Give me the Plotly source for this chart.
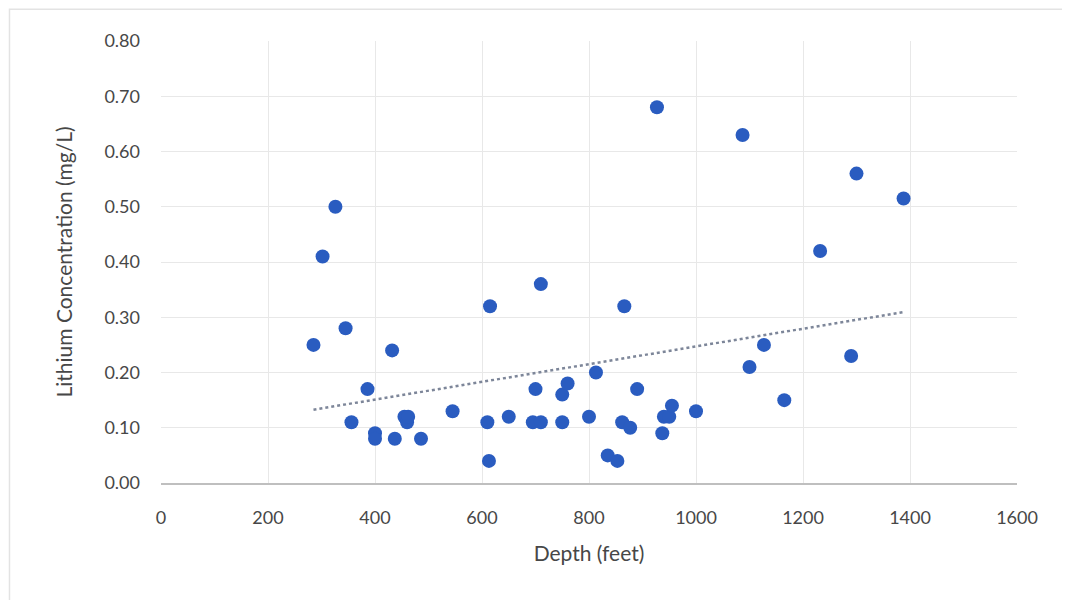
import numpy as np
import plotly.graph_objects as go

depth_ft = [285, 302, 326, 345, 356, 386, 400, 400, 432, 437, 455, 460, 462, 486,
            545, 610, 613, 615, 650, 695, 700, 710, 710, 750, 750, 760, 800, 813,
            835, 853, 862, 866, 877, 890, 927, 937, 940, 950, 955, 1000, 1087,
            1100, 1127, 1165, 1232, 1290, 1300, 1388]
lithium_mg_l = [0.25, 0.41, 0.50, 0.28, 0.11, 0.17, 0.09, 0.08, 0.24, 0.08, 0.12, 0.11, 0.12, 0.08,
                0.13, 0.11, 0.04, 0.32, 0.12, 0.11, 0.17, 0.11, 0.36, 0.11, 0.16, 0.18, 0.12, 0.20,
                0.05, 0.04, 0.11, 0.32, 0.10, 0.17, 0.68, 0.09, 0.12, 0.12, 0.14, 0.13, 0.63,
                0.21, 0.25, 0.15, 0.42, 0.23, 0.56, 0.515]

x_ticks = [0, 200, 400, 600, 800, 1000, 1200, 1400, 1600]
y_ticks = [0.0, 0.1, 0.2, 0.3, 0.4, 0.5, 0.6, 0.7, 0.8]

slope, intercept = np.polyfit(depth_ft, lithium_mg_l, 1)
tx = [min(depth_ft), max(depth_ft)]
ty = [slope * v + intercept for v in tx]

font_family = "Lato, 'Open Sans', Arial, sans-serif"
text_col = "#474747"

fig = go.Figure()
fig.add_trace(go.Scatter(
    x=tx, y=ty, mode="lines",
    line=dict(color="#7d8699", width=2.5, dash="dot"),
    hoverinfo="skip", showlegend=False))
fig.add_trace(go.Scatter(
    x=depth_ft, y=lithium_mg_l, mode="markers",
    marker=dict(color="#2a5cc0", size=14, line=dict(width=0)),
    showlegend=False))

fig.update_layout(
    width=1070, height=600,
    margin=dict(l=153, r=61, t=33, b=125),
    paper_bgcolor="white", plot_bgcolor="white",
    font=dict(family=font_family, color=text_col, size=18),
    xaxis=dict(
        range=[0, 1600], tickvals=x_ticks, ticktext=[str(v) for v in x_ticks],
        showgrid=True, gridcolor="#e8e8e8", gridwidth=1,
        showline=True, linecolor="#bfbfbf", linewidth=1.5,
        zeroline=False, ticks="", ticklen=0, ticklabelstandoff=18,
        title=dict(text="Depth (feet)", font=dict(size=21, color=text_col), standoff=19),
        tickfont=dict(size=18, color=text_col),
    ),
    yaxis=dict(
        range=[0, 0.8], tickvals=y_ticks, ticktext=[f"{v:.2f}" for v in y_ticks],
        showgrid=True, gridcolor="#e8e8e8", gridwidth=1,
        showline=False, zeroline=False, ticks="", ticklabelstandoff=20,
        title=dict(text="Lithium Concentration (mg/L)", font=dict(size=21, color=text_col), standoff=26),
        tickfont=dict(size=18, color=text_col),
    ),
    shapes=[dict(type="rect", xref="paper", yref="paper",
                 x0=-0.177, x1=1.09, y0=-0.35, y1=1.072,
                 line=dict(color="#e3e3e3", width=1.5), layer="below")],
)

fig.write_html("out.html")
